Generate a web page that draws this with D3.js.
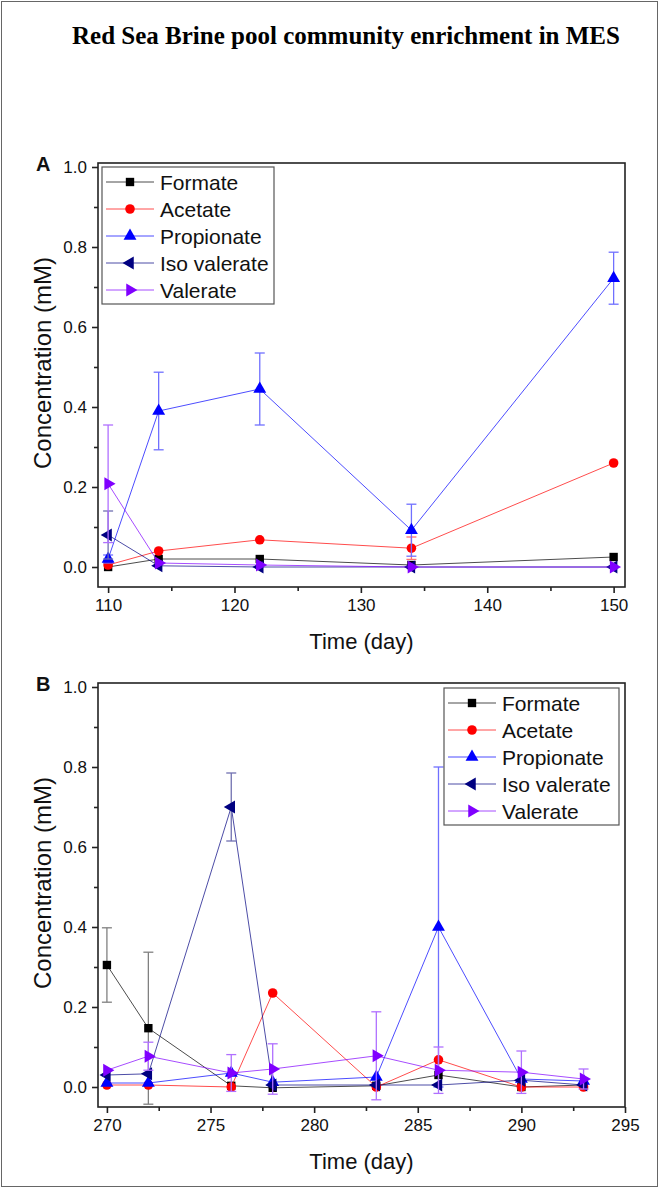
<!DOCTYPE html>
<html>
<head>
<meta charset="utf-8">
<script src="https://cdnjs.cloudflare.com/ajax/libs/d3/7.8.5/d3.min.js"></script>
<style>
  body { margin: 0; background: #fff; }
  svg { display: block; }
</style>
</head>
<body>
<div id="board"></div>
<script>
"use strict";

// series (same order in both panels)
var seriesNames = ['Formate', 'Acetate', 'Propionate', 'Iso valerate', 'Valerate'];
var seriesColors = ['#000000', '#ff0000', '#0000ff', '#000080', '#8000ff'];
var errColors = ['#808080', '#ff7070', '#7070ff', '#7070b0', '#b070ff'];
var seriesShapes = ['square', 'circle', 'up', 'left', 'right'];

// panel A : days 110-150
var daysA = [110, 114, 122, 134, 150];
var formateA = [0.0, 0.02, 0.02, 0.005, 0.025];
var acetateA = [0.005, 0.04, 0.068, 0.047, 0.26];
var propionateA = [0.02, 0.39, 0.445, 0.092, 0.722];
var isoValerateA = [0.08, 0.003, 0.0, 0.0, 0.0];
var valerateA = [0.208, 0.01, 0.005, 0.0, 0.0];
var formateErrA = [0, 0, 0, 0, 0];
var acetateErrA = [0, 0, 0, 0.028, 0];
var propionateErrA = [0.01, 0.097, 0.09, 0.065, 0.065];
var isoValerateErrA = [0.06, 0, 0, 0, 0];
var valerateErrA = [0.147, 0, 0, 0, 0];
var xTicksA = [110, 120, 130, 140, 150];
var xMinorA = [115, 125, 135, 145];

// panel B : days 270-293
var daysB = [270, 272, 276, 278, 283, 286, 290, 293];
var formateB = [0.305, 0.147, 0.003, -0.002, 0.003, 0.03, 0.0, 0.005];
var acetateB = [0.005, 0.005, 0.0, 0.235, 0.0, 0.068, 0.0, 0.0];
var propionateB = [0.01, 0.01, 0.035, 0.012, 0.025, 0.40, 0.02, 0.015];
var isoValerateB = [0.03, 0.033, 0.70, 0.005, 0.005, 0.005, 0.017, 0.005];
var valerateB = [0.042, 0.077, 0.035, 0.045, 0.078, 0.042, 0.037, 0.02];
var formateErrB = [0.093, 0.19, 0, 0, 0, 0, 0, 0];
var acetateErrB = [0, 0, 0, 0, 0, 0, 0, 0];
var propionateErrB = [0, 0, 0, 0, 0, 0.40, 0, 0];
var isoValerateErrB = [0, 0, 0.085, 0, 0, 0, 0, 0];
var valerateErrB = [0, 0.035, 0.046, 0.063, 0.11, 0.058, 0.053, 0.025];
var xTicksB = [270, 275, 280, 285, 290, 295];
var xMinorB = [272.5, 277.5, 282.5, 287.5, 292.5];

var yTicks = [0.0, 0.2, 0.4, 0.6, 0.8, 1.0];
var yMinor = [0.1, 0.3, 0.5, 0.7, 0.9];

var width = 659,
  height = 1188;

var svg = d3.select('#board')
  .append('svg')
  .attr('width', width)
  .attr('height', height);

// outer frame
svg.append('rect')
  .attr('x', 1.5).attr('y', 1.5)
  .attr('width', width - 3).attr('height', height - 3)
  .attr('fill', 'none')
  .attr('stroke', '#666')
  .attr('stroke-width', 1);

svg.append('text')
  .text('Red Sea Brine pool community enrichment in MES')
  .attr('x', 346)
  .attr('y', 44)
  .attr('text-anchor', 'middle')
  .attr('font-family', '"Liberation Serif", "Times New Roman", serif')
  .attr('font-weight', 'bold')
  .attr('font-size', 25);

var symbolPath = function(shape) {
  if (shape === 'square') return d3.symbol(d3.symbolSquare, 70)();
  if (shape === 'circle') return d3.symbol(d3.symbolCircle, 72)();
  return d3.symbol(d3.symbolTriangle, 72)();
};

var symbolRotate = function(shape) {
  if (shape === 'left') return -90;
  if (shape === 'right') return 90;
  return 0;
};

var drawPanel = function(opt) {
  var g = svg.append('g');
  var left = 98, right = 625;
  var x = d3.scaleLinear().domain(opt.xDomain).range([left, right]);
  var y = d3.scaleLinear().domain([-0.05, 1.01]).range([opt.bottom, opt.bottom - 424]);
  var top = opt.bottom - 424;

  // series
  opt.series.forEach(function(vals, i) {
    var errs = opt.errors[i];
    var pts = opt.days.map(function(d, k) { return { x: d, y: vals[k], e: errs[k] }; });

    var line = d3.line().x(function(d) { return x(d.x); }).y(function(d) { return y(d.y); });
    g.append('path')
      .attr('d', line(pts))
      .attr('fill', 'none')
      .attr('stroke', seriesColors[i])
      .attr('stroke-opacity', 0.7)
      .attr('stroke-width', 1);

    var eb = g.append('g').attr('stroke', errColors[i]).attr('stroke-width', 1.3);
    pts.filter(function(d) { return d.e > 0; }).forEach(function(d) {
      var cx = x(d.x), y0 = y(d.y - d.e), y1 = y(d.y + d.e);
      eb.append('line').attr('x1', cx).attr('x2', cx).attr('y1', y0).attr('y2', y1);
      eb.append('line').attr('x1', cx - 5).attr('x2', cx + 5).attr('y1', y0).attr('y2', y0);
      eb.append('line').attr('x1', cx - 5).attr('x2', cx + 5).attr('y1', y1).attr('y2', y1);
    });

    g.selectAll(null)
      .data(pts)
      .enter()
      .append('path')
      .attr('d', symbolPath(seriesShapes[i]))
      .attr('transform', function(d) {
        return 'translate(' + x(d.x) + ',' + y(d.y) + ') rotate(' + symbolRotate(seriesShapes[i]) + ')';
      })
      .attr('fill', seriesColors[i]);
  });

  // frame
  g.append('rect')
    .attr('x', left).attr('y', top)
    .attr('width', right - left).attr('height', opt.bottom - top)
    .attr('fill', 'none')
    .attr('stroke', '#222')
    .attr('stroke-width', 1.6);

  // axes
  var xAxis = d3.axisBottom(x).tickValues(opt.xTicks).tickSize(6).tickPadding(6).tickFormat(d3.format('d'));
  var xa = g.append('g').attr('transform', 'translate(0,' + opt.bottom + ')').call(xAxis);
  xa.select('.domain').remove();
  xa.selectAll('.tick line').attr('stroke', '#222').attr('stroke-width', 1.6);
  xa.selectAll('.tick text').attr('font-family', '"Liberation Sans", Arial, sans-serif').attr('font-size', 17).attr('fill', '#111');
  g.append('g').attr('transform', 'translate(0,' + opt.bottom + ')')
    .call(d3.axisBottom(x).tickValues(opt.xMinor).tickSize(4).tickFormat(''))
    .call(function(a) { a.select('.domain').remove(); a.selectAll('line').attr('stroke', '#222').attr('stroke-width', 1.6); });

  var yAxis = d3.axisLeft(y).tickValues(yTicks).tickSize(6).tickPadding(5).tickFormat(d3.format('.1f'));
  var ya = g.append('g').attr('transform', 'translate(' + left + ',0)').call(yAxis);
  ya.select('.domain').remove();
  ya.selectAll('.tick line').attr('stroke', '#222').attr('stroke-width', 1.6);
  ya.selectAll('.tick text').attr('font-family', '"Liberation Sans", Arial, sans-serif').attr('font-size', 17).attr('fill', '#111');
  g.append('g').attr('transform', 'translate(' + left + ',0)')
    .call(d3.axisLeft(y).tickValues(yMinor).tickSize(4).tickFormat(''))
    .call(function(a) { a.select('.domain').remove(); a.selectAll('line').attr('stroke', '#222').attr('stroke-width', 1.6); });

  // titles
  g.append('text')
    .text('Time (day)')
    .attr('x', (left + right) / 2)
    .attr('y', opt.bottom + 62)
    .attr('text-anchor', 'middle')
    .attr('font-family', '"Liberation Sans", Arial, sans-serif')
    .attr('font-size', 22)
    .attr('fill', '#111');

  g.append('text')
    .text('Concentration (mM)')
    .attr('transform', 'translate(51,' + (top + 200) + ') rotate(-90)')
    .attr('text-anchor', 'middle')
    .attr('font-family', '"Liberation Sans", Arial, sans-serif')
    .attr('font-size', 24)
    .attr('fill', '#111');

  g.append('text')
    .text(opt.label)
    .attr('x', 36)
    .attr('y', top + 8)
    .attr('font-family', '"Liberation Sans", Arial, sans-serif')
    .attr('font-weight', 'bold')
    .attr('font-size', 20)
    .attr('fill', '#111');

  // legend
  var lg = g.append('g').attr('transform', 'translate(' + opt.legend[0] + ',' + opt.legend[1] + ')');
  lg.append('rect')
    .attr('x', 0).attr('y', 0)
    .attr('width', opt.legend[2]).attr('height', 137)
    .attr('fill', '#fff')
    .attr('stroke', '#555')
    .attr('stroke-width', 1.2);
  seriesNames.forEach(function(name, i) {
    var ly = 15 + i * 27;
    lg.append('line')
      .attr('x1', 4).attr('x2', 52).attr('y1', ly).attr('y2', ly)
      .attr('stroke', seriesColors[i]).attr('stroke-opacity', 0.7).attr('stroke-width', 1);
    lg.append('path')
      .attr('d', symbolPath(seriesShapes[i]))
      .attr('transform', 'translate(28,' + ly + ') rotate(' + symbolRotate(seriesShapes[i]) + ')')
      .attr('fill', seriesColors[i]);
    lg.append('text')
      .text(name)
      .attr('x', 58)
      .attr('y', ly + 7.5)
      .attr('font-family', '"Liberation Sans", Arial, sans-serif')
      .attr('font-size', 21)
      .attr('fill', '#111');
  });
};

drawPanel({
  label: 'A',
  bottom: 587,
  xDomain: [109.2, 150.9],
  xTicks: xTicksA,
  xMinor: xMinorA,
  days: daysA,
  series: [formateA, acetateA, propionateA, isoValerateA, valerateA],
  errors: [formateErrA, acetateErrA, propionateErrA, isoValerateErrA, valerateErrA],
  legend: [102, 167, 172]
});

drawPanel({
  label: 'B',
  bottom: 1107,
  xDomain: [269.57, 295],
  xTicks: xTicksB,
  xMinor: xMinorB,
  days: daysB,
  series: [formateB, acetateB, propionateB, isoValerateB, valerateB],
  errors: [formateErrB, acetateErrB, propionateErrB, isoValerateErrB, valerateErrB],
  legend: [444, 688, 175]
});
</script>
</body>
</html>
